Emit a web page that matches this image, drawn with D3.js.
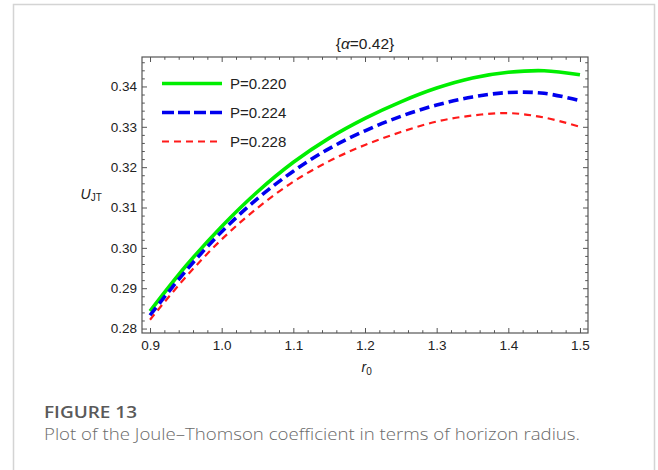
<!DOCTYPE html>
<html><head><meta charset="utf-8">
<script src="https://cdn.jsdelivr.net/npm/d3@7"></script>
<style>
  body { margin: 0; background: #fff; }
  svg { display: block; }
</style>
</head><body>
<script>
// horizon radius r0 and Joule–Thomson coefficient for three pressures
const radius = [0.90, 0.95, 1.00, 1.05, 1.10, 1.15, 1.20, 1.25, 1.30, 1.35, 1.40, 1.45, 1.50];
const uP220 = [0.2843, 0.2955, 0.3053, 0.3139, 0.3212, 0.3272, 0.3321, 0.3362, 0.3396, 0.3421, 0.3435, 0.3439, 0.3429];
const uP224 = [0.2833, 0.2943, 0.3040, 0.3122, 0.3190, 0.3246, 0.3290, 0.3326, 0.3354, 0.3374, 0.3385, 0.3383, 0.3365];
const uP228 = [0.2822, 0.2928, 0.3021, 0.3099, 0.3164, 0.3215, 0.3255, 0.3287, 0.3313, 0.3328, 0.3334, 0.3323, 0.3300];
const seriesLabels = ["P=0.220", "P=0.224", "P=0.228"];
const xTicks = [0.9, 1.0, 1.1, 1.2, 1.3, 1.4, 1.5];
const yTicks = [0.28, 0.29, 0.30, 0.31, 0.32, 0.33, 0.34];
const titleText = "{α=0.42}";
const captionHead = "FIGURE 13";
const captionBody = "Plot of the Joule–Thomson coefficient in terms of horizon radius.";

const W = 658, H = 470;
const plot = { left: 142, right: 588, top: 57, bottom: 333 };

const svg = d3.select("body").append("svg").attr("width", W).attr("height", H);

// outer card border
svg.append("path")
  .attr("d", `M13.5,${H + 2} V4.5 H654.5 V${H + 2}`)
  .attr("fill", "none").attr("stroke", "#d4d4d4").attr("stroke-width", 1.5);

const x = d3.scaleLinear().domain([0.8888, 1.5112]).range([plot.left, plot.right]);
const y = d3.scaleLinear().domain([0.2789, 0.3473]).range([plot.bottom, plot.top]);

const axisColor = "#555";
const fontFam = "'Liberation Sans', Arial, sans-serif";

// minor tick positions
const xMinor = d3.range(0.90, 1.5001, 0.02).filter(v => !xTicks.some(t => Math.abs(t - v) < 1e-6));
const yMinor = d3.range(0.28, 0.3471, 0.002).filter(v => !yTicks.some(t => Math.abs(t - v) < 1e-6));

function frameAxis(axisFn, scale, ticks, minor, transform, labels) {
  const gMaj = svg.append("g").attr("transform", transform)
    .call(axisFn(scale).tickValues(ticks).tickSizeInner(-5).tickSizeOuter(0)
      .tickFormat(labels ? d3.format(".2~f") : () => ""));
  const gMin = svg.append("g").attr("transform", transform)
    .call(axisFn(scale).tickValues(minor).tickSizeInner(-2.8).tickSizeOuter(0).tickFormat(() => ""));
  [gMaj, gMin].forEach(g => {
    g.select(".domain").remove();
    g.selectAll("line").attr("stroke", axisColor).attr("stroke-width", 1);
  });
  return gMaj;
}

const fmtX = d3.format(".1f"), fmtY = d3.format(".2f");

// bottom axis with labels
const gB = frameAxis(d3.axisBottom, x, xTicks, xMinor, `translate(0,${plot.bottom})`, true);
gB.selectAll("text").text(d => fmtX(d))
  .attr("font-family", fontFam).attr("font-size", 13.5).attr("fill", "#222").attr("y", 7).attr("dy", "0.71em");
// left axis with labels
const gL = frameAxis(d3.axisLeft, y, yTicks, yMinor, `translate(${plot.left},0)`, true);
gL.selectAll("text").text(d => fmtY(d))
  .attr("font-family", fontFam).attr("font-size", 13.5).attr("fill", "#222").attr("x", -5);
// top and right frame ticks
frameAxis(d3.axisTop, x, xTicks, xMinor, `translate(0,${plot.top})`, false);
frameAxis(d3.axisRight, y, yTicks, yMinor, `translate(${plot.right},0)`, false);

// frame
svg.append("rect")
  .attr("x", plot.left).attr("y", plot.top)
  .attr("width", plot.right - plot.left).attr("height", plot.bottom - plot.top)
  .attr("fill", "none").attr("stroke", axisColor).attr("stroke-width", 1.2);

// curves
const styles = [
  { color: "#00ee00", width: 3.6, dash: null },
  { color: "#0000ee", width: 3.6, dash: "10,5" },
  { color: "#ff1a1a", width: 2.2, dash: "7,5" }
];
const series = [uP220, uP224, uP228];
const line = d3.line().x(d => x(d[0])).y(d => y(d[1])).curve(d3.curveCatmullRom.alpha(0.5));

series.forEach((vals, i) => {
  svg.append("path")
    .datum(radius.map((r, j) => [r, vals[j]]))
    .attr("d", line)
    .attr("fill", "none")
    .attr("stroke", styles[i].color)
    .attr("stroke-width", styles[i].width)
    .attr("stroke-dasharray", styles[i].dash);
});

// legend
const legendY = [83.5, 112.5, 141.5];
seriesLabels.forEach((lab, i) => {
  svg.append("line")
    .attr("x1", 162).attr("x2", 222).attr("y1", legendY[i]).attr("y2", legendY[i])
    .attr("stroke", styles[i].color).attr("stroke-width", styles[i].width)
    .attr("stroke-dasharray", i === 1 ? "12,4" : styles[i].dash);
  svg.append("text")
    .attr("x", 230).attr("y", legendY[i]).attr("dy", "0.36em")
    .attr("font-family", fontFam).attr("font-size", 15).attr("fill", "#222")
    .text(lab);
});

// title
const title = svg.append("text")
  .attr("x", (plot.left + plot.right) / 2).attr("y", 49)
  .attr("text-anchor", "middle")
  .attr("font-family", fontFam).attr("font-size", 15.5).attr("fill", "#222");
title.append("tspan").text("{");
title.append("tspan").attr("font-style", "italic").text(titleText.slice(1, 2));
title.append("tspan").text(titleText.slice(2));

// axis titles
const yLab = svg.append("text")
  .attr("x", 80.5).attr("y", 199)
  .attr("font-family", fontFam).attr("font-size", 14).attr("fill", "#222");
yLab.append("tspan").attr("font-style", "italic").text("U");
yLab.append("tspan").attr("font-size", 10).attr("dy", 2).text("JT");

const xLab = svg.append("text")
  .attr("x", 361.5).attr("y", 372)
  .attr("font-family", fontFam).attr("font-size", 14).attr("fill", "#222");
xLab.append("tspan").attr("font-style", "italic").text("r");
xLab.append("tspan").attr("font-size", 10).attr("dy", 2.5).text("0");

// caption
svg.append("text")
  .attr("x", 44).attr("y", 418)
  .attr("font-family", "'Open Sans', Lato, sans-serif").attr("font-size", 17)
  .attr("font-weight", 600).attr("fill", "#5a5a5a")
  .attr("textLength", 93).attr("lengthAdjust", "spacingAndGlyphs")
  .text(captionHead);
svg.append("text")
  .attr("x", 44).attr("y", 440)
  .attr("font-family", "'Open Sans', Lato, sans-serif").attr("font-size", 15.5)
  .attr("font-weight", 300).attr("fill", "#6a6a6a")
  .attr("textLength", 536).attr("lengthAdjust", "spacingAndGlyphs")
  .text(captionBody);
</script>
</body></html>
